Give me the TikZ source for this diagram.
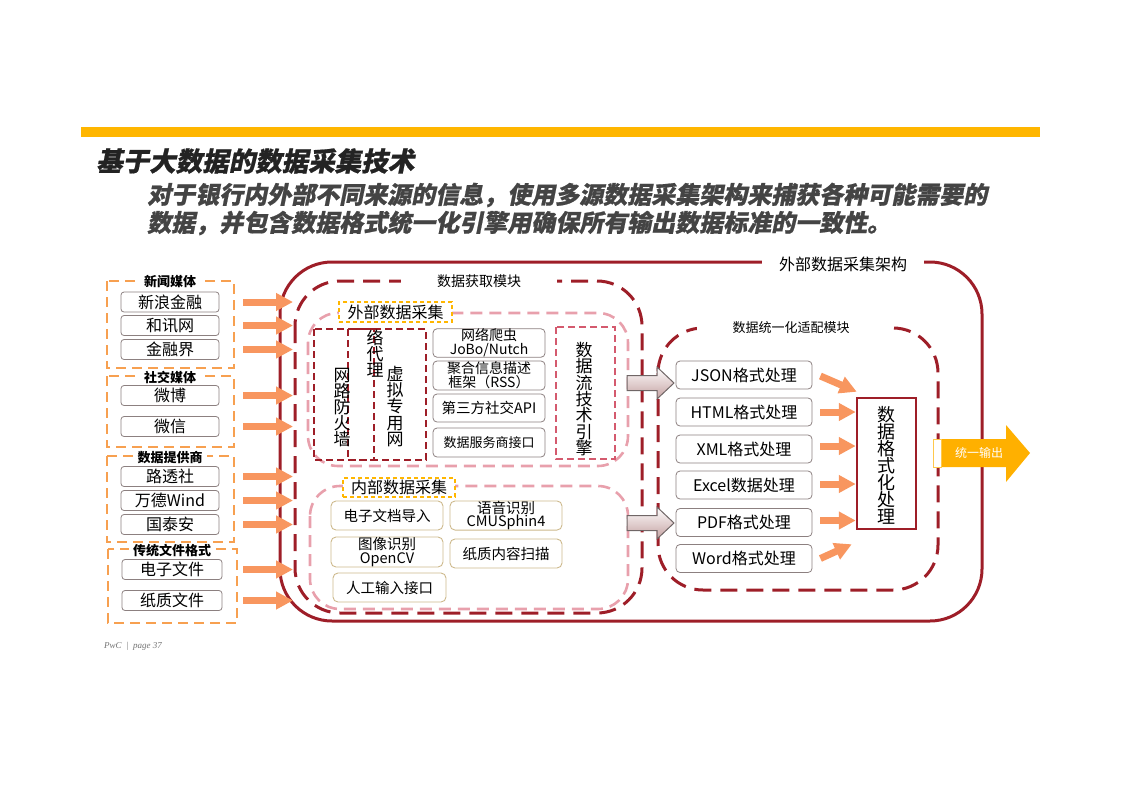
\documentclass[tikz,border=0pt]{standalone}
\usepackage{fontspec}
\setmainfont{Noto Sans CJK SC}
\newfontfamily\titlefont[FakeSlant=0.2,FakeBold=0.8]{Noto Sans CJK SC}
\newfontfamily\footfont{Liberation Serif}
\usetikzlibrary{arrows.meta,calc}
\definecolor{dred}{RGB}{158,30,40}
\definecolor{pinkd}{RGB}{232,160,172}
\definecolor{pinkr}{RGB}{212,90,110}
\definecolor{grpor}{RGB}{247,160,80}
\definecolor{arror}{RGB}{248,150,95}
\definecolor{barye}{RGB}{255,182,0}
\definecolor{outye}{RGB}{255,176,0}
\definecolor{boxgr}{RGB}{140,128,128}
\definecolor{boxtan}{RGB}{205,185,140}
\definecolor{ttl}{RGB}{35,35,35}
\definecolor{gshade}{RGB}{196,160,160}
\tikzset{
  item/.style={draw=boxgr, line width=0.8pt, rounded corners=3pt, minimum width=98pt, minimum height=20pt, inner sep=0pt, font=\fontsize{16}{16}\selectfont},
  grp/.style={draw=grpor, line width=1.8pt, dash pattern=on 10pt off 6pt},
  grptitle/.style={fill=white, inner xsep=4pt, inner ysep=0pt, font=\bfseries\fontsize{13}{13}\selectfont},
  oarr/.style={draw=arror, line width=7pt, -{Triangle[length=17pt,width=17pt]}, arror},
  modbox/.style={draw=dred, line width=3pt, dash pattern=on 17pt off 9pt},
  pinkbox/.style={draw=pinkd, line width=2.6pt, dash pattern=on 12pt off 7pt},
  lblbox/.style={draw=barye, fill=white, line width=1.5pt, dash pattern=on 4pt off 3pt, inner xsep=3pt, inner ysep=1pt, font=\fontsize{16}{16}\selectfont},
  stk/.style={draw=boxgr, line width=0.8pt, rounded corners=4pt, minimum width=112pt, inner sep=0pt, align=center, font=\fontsize{14}{14}\selectfont},
  intb/.style={draw=boxtan, line width=0.9pt, rounded corners=5pt, minimum width=112pt, minimum height=29pt, inner sep=0pt, align=center, font=\fontsize{14.5}{14.5}\selectfont},
  fmt/.style={draw=boxgr, line width=0.8pt, rounded corners=4pt, minimum width=136pt, minimum height=28pt, inner sep=0pt, font=\fontsize{16}{16}\selectfont},
  vtext/.style={align=center, inner sep=0pt, font=\fontsize{17}{16.2}\selectfont},
  fwbox/.style={draw=dred, line width=1.8pt, dash pattern=on 7pt off 4pt},
  garr/.style={draw=boxgr!80!black, line width=1pt, top color=white, bottom color=gshade},
  modlbl/.style={fill=white, inner ysep=1pt}
}
\begin{document}
\begin{tikzpicture}[x=1pt,y=-1pt]
\useasboundingbox (0,0) rectangle (1122,793);
% top bar and titles
\fill[barye] (81,127) rectangle (1040,137);
\node[anchor=west, inner sep=0pt, text=ttl, font=\titlefont\bfseries\fontsize{26.5}{26.5}\selectfont] (title) at (96,161) {基于大数据的数据采集技术};
\node[anchor=west, inner sep=0pt, text=ttl!85, font=\titlefont\bfseries\fontsize{24}{24}\selectfont] (sub1) at (147,195) {对于银行内外部不同来源的信息，使用多源数据采集架构来捕获各种可能需要的};
\node[anchor=west, inner sep=0pt, text=ttl!85, font=\titlefont\bfseries\fontsize{24}{24}\selectfont] (sub2) at (147,223) {数据，并包含数据格式统一化引擎用确保所有输出数据标准的一致性。};

% left groups
\draw[grp] (107,281) rectangle (234,368);
\draw[grp] (107,376) rectangle (234,447);
\draw[grp] (107,456) rectangle (234,542);
\draw[grp] (108,549) rectangle (237,623);
\node[grptitle] (g1) at (170,282) {新闻媒体};
\node[grptitle] (g2) at (170,377) {社交媒体};
\node[grptitle] (g3) at (170,458) {数据提供商};
\node[grptitle] (g4) at (172,551) {传统文件格式};
\node[item] (xinlang) at (170,302) {新浪金融};
\node[item] (hexun) at (170,325.5) {和讯网};
\node[item] (jrj) at (170,349.5) {金融界};
\node[item] (weibo) at (170,395.5) {微博};
\node[item] (weixin) at (170,426.5) {微信};
\node[item] (lutou) at (170,476.5) {路透社};
\node[item] (wind) at (170,500.5) {万德Wind};
\node[item] (gta) at (170,524.5) {国泰安};
\node[item, minimum width=100pt] (dzwj) at (172,569.5) {电子文件};
\node[item, minimum width=100pt] (zzwj) at (172,600.5) {纸质文件};

% outer frame
\draw[dred, line width=3pt, rounded corners=52pt] (280,262) rectangle (982,621);
\node[modlbl, inner xsep=17pt, font=\fontsize{16}{16}\selectfont] (outerlbl) at (843,264) {外部数据采集架构};

% acquisition module
\draw[modbox, rounded corners=45pt] (295,281) rectangle (642,613);
\node[modlbl, inner xsep=36pt, font=\fontsize{14}{14}\selectfont] (acqlbl) at (479,281) {数据获取模块};

% external collection
\draw[pinkbox, rounded corners=30pt] (308,313) rectangle (628,466);
\node[lblbox, minimum width=113pt, minimum height=20pt] (extlbl) at (395.5,312) {外部数据采集};
\draw[fwbox] (314,329) rectangle (374,460);
\draw[fwbox] (348,329) rectangle (426,460);
\node[vtext] (fw) at (342,407.5) {网\\路\\防\\火\\墙};
\node[vtext] (proxy) at (375,353.5) {络\\代\\理};
\node[vtext] (vpn) at (395,406.5) {虚\\拟\\专\\用\\网};
\node[stk, minimum height=28pt] (pc) at (489,343) {网络爬虫\\JoBo/Nutch};
\node[stk, minimum height=29pt] (rss) at (489,375.5) {聚合信息描述\\框架（RSS）};
\node[stk, minimum height=28pt, font=\fontsize{14.5}{14.5}\selectfont] (api) at (489,408) {第三方社交API};
\node[stk, minimum height=29pt, font=\fontsize{13}{13}\selectfont] (dsp) at (489,442.5) {数据服务商接口};
\draw[draw=pinkr, line width=1.8pt, dash pattern=on 7pt off 4pt] (556,327) rectangle (615,459);
\node[vtext, font=\fontsize{17}{16.3}\selectfont] (engine) at (584,399) {数\\据\\流\\技\\术\\引\\擎};

% internal collection
\draw[pinkbox, rounded corners=30pt] (310,486) rectangle (628,609);
\node[lblbox, minimum width=112pt, minimum height=19pt] (intlbl) at (399,487.5) {内部数据采集};
\node[intb] (dzwd) at (387,515.5) {电子文档导入};
\node[intb, font=\fontsize{14.5}{13.5}\selectfont] (yysb) at (506,515.5) {语音识别\\CMUSphin4};
\node[intb, minimum height=30pt, font=\fontsize{14.5}{13.5}\selectfont] (txsb) at (387,552) {图像识别\\OpenCV};
\node[intb] (zzsm) at (506,553.5) {纸质内容扫描};
\node[intb, minimum width=113pt] (rgsr) at (389.5,587.5) {人工输入接口};

% unification module
\draw[modbox, rounded corners=45pt] (658,328) rectangle (938,590);
\node[modlbl, inner xsep=36pt, font=\fontsize{13}{13}\selectfont] (unilbl) at (791,328) {数据统一化适配模块};
\node[fmt] (json) at (744,375) {JSON格式处理};
\node[fmt] (html) at (744,412) {HTML格式处理};
\node[fmt] (xml) at (744,449) {XML格式处理};
\node[fmt] (excel) at (744,485) {Excel数据处理};
\node[fmt] (pdf) at (744,522.5) {PDF格式处理};
\node[fmt] (word) at (744,558.5) {Word格式处理};
\node[draw=dred, line width=2.5pt, minimum width=59pt, minimum height=131pt, inner sep=0pt] (proc) at (886.5,463.5) {};
\node[vtext, font=\fontsize{18}{17}\selectfont] (proctext) at (886.5,465) {数\\据\\格\\式\\化\\处\\理};

% gray block arrows
\draw[garr] (627,375.5) -- (657,375.5) -- (657,367) -- (674,383) -- (657,399) -- (657,390.5) -- (627,390.5) -- cycle;
\draw[garr] (627,515.5) -- (657,515.5) -- (657,507) -- (674,523) -- (657,539) -- (657,530.5) -- (627,530.5) -- cycle;

% left orange arrows
\coordinate (aL) at (243,0);
\coordinate (aR) at (293,0);
\foreach \n in {xinlang,hexun,jrj,weibo,weixin,lutou,wind,gta,dzwj,zzwj}
  \draw[oarr] (\n.east -| aL) -- (\n.east -| aR);

% format arrows
\coordinate (fL) at (820,0);
\draw[oarr] ($(json.east)+(8,1)$) -- ($(proc.north west)+(1,-5)$);
\draw[oarr] (html.east -| fL) -- (html.east -| proc.west);
\draw[oarr] ($(xml.east -| fL)+(0,-3)$) -- ($(xml.east -| proc.west)+(0,-3)$);
\draw[oarr] ($(excel.east -| fL)+(0,-1)$) -- ($(excel.east -| proc.west)+(0,-1)$);
\draw[oarr] ($(pdf.east -| fL)+(0,-2)$) -- ($(pdf.east -| proc.west)+(0,-2)$);
\draw[oarr] ($(word.east)+(8,0)$) -- ($(proc.south west)+(-4,14)$);

% output arrow
\fill[outye] (940,439) -- (1006,439) -- (1006,425) -- (1030,453) -- (1006,482) -- (1006,467) -- (940,467) -- cycle;
\draw[outye!70, fill=white, line width=1pt] (933,439) rectangle (941,467);
\node[text=white, inner sep=0pt, font=\fontsize{12}{12}\selectfont] (out) at (979,453) {统一输出};

% footer
\node[anchor=west, inner sep=0pt, text=black!55, font=\footfont\itshape\fontsize{9}{9}\selectfont] (foot) at (104,646) {PwC\enspace|\enspace page 37};
\end{tikzpicture}
\end{document}
